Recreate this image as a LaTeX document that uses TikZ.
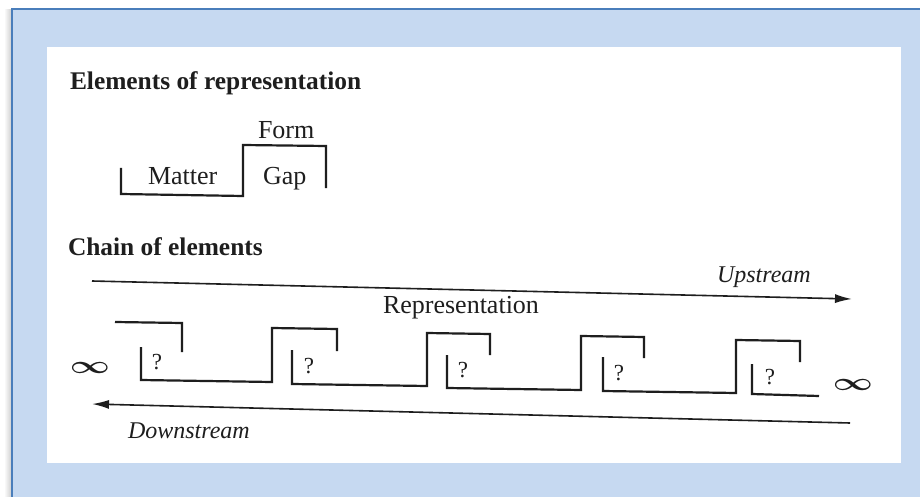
\documentclass[tikz,border=0pt]{standalone}
\usepackage{fontspec}
\usepackage{graphicx}
\setmainfont{Liberation Serif}
\usetikzlibrary{arrows.meta}
\definecolor{framefill}{RGB}{198,217,241}
\definecolor{frameline}{RGB}{74,126,187}
\definecolor{ink}{RGB}{30,30,30}
\newcommand{\headfnt}{\fontsize{25.4}{30}\selectfont\bfseries}
\newcommand{\bodyfnt}{\fontsize{26}{31}\selectfont}
\newcommand{\itfnt}{\fontsize{24}{29}\selectfont\itshape}
\newcommand{\qfnt}{\fontsize{23}{27}\selectfont}
\newcommand{\infsym}{\scalebox{1.4}[1]{\fontsize{24}{28}\selectfont\boldmath$\infty$}}
\begin{document}
\begin{tikzpicture}[x=1pt,y=-1pt,
  lbl/.style={inner sep=0pt,outer sep=0pt,anchor=base west,text=ink},
  qmark/.style={inner sep=0pt,outer sep=0pt,text=ink,font=\qfnt},
  inf/.style={inner sep=0pt,outer sep=0pt,text=ink},
  elem/.style={draw=ink,line width=2.2pt,line join=miter},
  flow/.style={draw=ink,line width=1.6pt,-{Latex[length=17pt,width=9pt]}}]
\useasboundingbox (0,0) rectangle (920,497);
% frame
\fill[left color=white,right color=black!18] (4,10) rectangle (11,497);
\fill[framefill] (12,9) rectangle (925,502);
\draw[frameline,line width=2.5pt] (12,502) -- (12,9) -- (925,9);
\fill[white] (47,47) rectangle (901,463);
% elements of representation
\node[lbl] (t1) at (70,90) {\headfnt Elements of representation};
\node[lbl] (form) at (258,139) {\bodyfnt Form};
\node[lbl] (matter) at (148,184) {\bodyfnt Matter};
\node[lbl] (gap) at (263,184) {\bodyfnt Gap};
\draw[elem] (121,168) -- (121,194) -- (243,196) -- (243,145) -- (326,146) -- (326,188);
% chain of elements
\node[lbl] (t2) at (68,255) {\headfnt Chain of elements};
\coordinate (upA) at (92,281);
\coordinate (upB) at (852,299);
\draw[flow] (upA) -- (upB);
\node[lbl] (up) at (717,282) {\itfnt Upstream};
\node[lbl] (rep) at (383,313) {\bodyfnt Representation};
\coordinate (dnA) at (850,423);
\coordinate (dnB) at (92,404);
\draw[flow] (dnA) -- (dnB);
\node[lbl] (down) at (128,438) {\itfnt Downstream};
\node[inf] (infL) at (90,368) {\infsym};
\node[inf] (infR) at (853,385) {\infsym};
% chain shapes
\draw[elem] (115,322) -- (182,323) -- (182,352);
\draw[elem] (141,347) -- (141,380) -- (272,382) -- (272,328) -- (337,329) -- (337,351);
\draw[elem] (292,350) -- (292,384) -- (427,386) -- (427,333) -- (490,334) -- (490,355);
\draw[elem] (447,355) -- (447,388) -- (581,390) -- (581,336) -- (644,337) -- (644,358);
\draw[elem] (603,357) -- (603,391) -- (736,393) -- (736,340) -- (800,341) -- (800,362);
\draw[elem] (752,364) -- (752,394) -- (819,396);
\node[qmark] (q1) at (157,362) {?};
\node[qmark] (q2) at (309,366) {?};
\node[qmark] (q3) at (463,370) {?};
\node[qmark] (q4) at (619,373) {?};
\node[qmark] (q5) at (770,377) {?};
\end{tikzpicture}
\end{document}
